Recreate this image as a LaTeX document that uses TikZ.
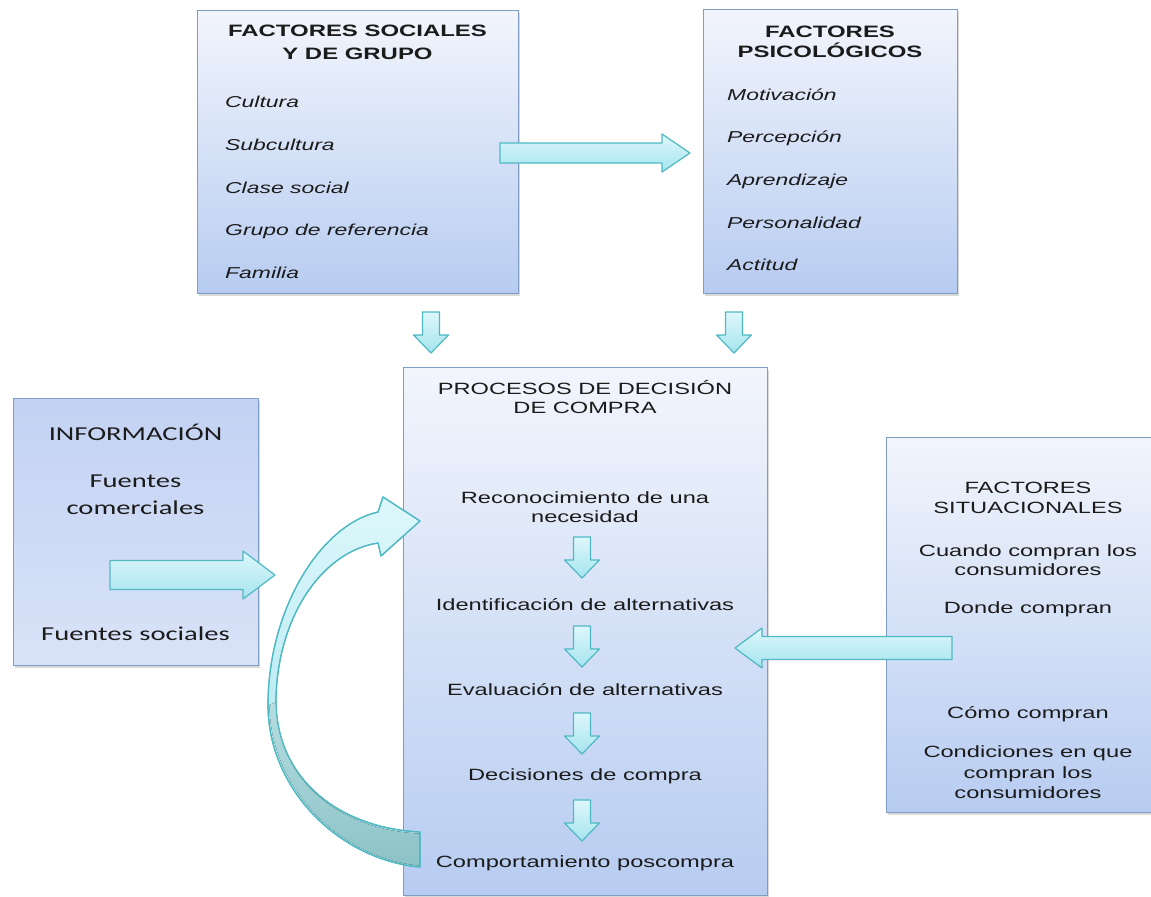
\documentclass[tikz,border=0pt]{standalone}
\usepackage{fontspec}
\setmainfont{Liberation Sans}[FakeStretch=1.45]
\newfontfamily\carlitofont{Carlito}[FakeStretch=1.45]
\usetikzlibrary{shadows}
\definecolor{boxline}{HTML}{7F9CC4}
\definecolor{boxtop}{HTML}{F2F5FC}
\definecolor{boxbot}{HTML}{B7CCF1}
\definecolor{infotop}{HTML}{C3D2F3}
\definecolor{infobot}{HTML}{D9E3F8}
\definecolor{arrline}{HTML}{4FB9C3}
\definecolor{arrtop}{HTML}{DDF7FB}
\definecolor{arrbot}{HTML}{A6E4EE}
\definecolor{arrdarktop}{HTML}{B5DDE0}
\definecolor{arrdarkbot}{HTML}{8CC3C7}
\definecolor{txt}{HTML}{1B1B1B}
\begin{document}
\begin{tikzpicture}[x=1bp,y=-1bp,
  panel/.style={draw=boxline, line width=1.3bp, top color=boxtop, bottom color=boxbot,
    anchor=north west, inner sep=0pt,
    drop shadow={shadow xshift=1.5bp, shadow yshift=-2bp, opacity=0.3}},
  infopanel/.style={panel, top color=infotop, bottom color=infobot},
  barrow/.style={draw=arrline, line width=1.2bp, top color=arrtop, bottom color=arrbot, line join=round},
  hdr/.style={anchor=base, text=txt, inner sep=0pt, font=\bfseries\fontsize{16.5bp}{20bp}\selectfont},
  itm/.style={anchor=base west, text=txt, inner sep=0pt, font=\itshape\fontsize{15.8bp}{19bp}\selectfont},
  ctxt/.style={anchor=base, text=txt, inner sep=0pt, font=\fontsize{16.3bp}{19bp}\selectfont},
  inf/.style={anchor=base, text=txt, inner sep=0pt, font=\carlitofont\fontsize{19.7bp}{24bp}\selectfont},
  pics/darrow/.style={code={\draw[barrow] (-8.5,0) -- (8.5,0) -- (8.5,23) -- (17.5,23) -- (0,41) -- (-17.5,23) -- (-8.5,23) -- cycle;}}
]
\useasboundingbox (0,0) rectangle (1151,897);
\clip (0,0) rectangle (1151,897);

% panels
\node[panel, minimum width=321bp, minimum height=283bp] (soc) at (197,10) {};
\node[panel, minimum width=254bp, minimum height=284bp] (psi) at (703,9) {};
\node[panel, minimum width=364bp, minimum height=528bp] (proc) at (403,367) {};
\node[infopanel, minimum width=245bp, minimum height=267bp] (info) at (13,398) {};
\node[panel, minimum width=284bp, minimum height=375bp] (sit) at (886,437) {};

% block arrows
\coordinate (a1) at (500,153);
\draw[barrow] (a1) ++(0,-10) -- ++(162,0) -- ++(0,-9) -- ++(28,19) -- ++(-28,19) -- ++(0,-9) -- ++(-162,0) -- cycle;
\coordinate (a2) at (110,575);
\draw[barrow] (a2) ++(0,-14.5) -- ++(133,0) -- ++(0,-9.5) -- ++(32,24) -- ++(-32,24) -- ++(0,-9.5) -- ++(-133,0) -- cycle;
\coordinate (a3) at (952,648);
\draw[barrow] (a3) ++(0,-11.5) -- ++(-190,0) -- ++(0,-8.5) -- ++(-27,20) -- ++(27,20) -- ++(0,-8.5) -- ++(190,0) -- cycle;

\pic at (431,312) {darrow};
\pic at (734,312) {darrow};
\pic at (582,537) {darrow};
\pic at (582,626) {darrow};
\pic at (582,713) {darrow};
\pic at (582,800) {darrow};

% curved arrow (feedback)
\coordinate (ctail) at (420,867);
\coordinate (ctip) at (420,521);
\draw[barrow] (ctail) .. controls (340,860) and (268,790) .. (268,705)
  .. controls (268,610) and (320,525) .. (378,512)
  -- (383,497) -- (ctip) -- (381,556) -- (378,543)
  .. controls (320,552) and (277,620) .. (276,700)
  .. controls (276,780) and (340,828) .. (420,832) -- cycle;
\fill[top color=arrdarktop, bottom color=arrdarkbot] (269.5,705) .. controls (270,788) and (340,858) .. (419,865.5)
  -- (419,833.5) .. controls (340,830) and (276,780) .. (276,702) -- cycle;
\draw[draw=arrline, line width=1.2bp, line join=round] (ctail) .. controls (340,860) and (268,790) .. (268,705)
  .. controls (268,610) and (320,525) .. (378,512)
  -- (383,497) -- (ctip) -- (381,556) -- (378,543)
  .. controls (320,552) and (277,620) .. (276,700)
  .. controls (276,780) and (340,828) .. (420,832) -- cycle;

% texts: social factors
\node[hdr] (soc1) at (357.5,36) {FACTORES SOCIALES};
\node[hdr] (soc2) at (357.5,59) {Y DE GRUPO};
\node[itm] (soci1) at (225,107) {Cultura};
\node[itm] (soci2) at (225,150) {Subcultura};
\node[itm] (soci3) at (225,193) {Clase social};
\node[itm] (soci4) at (225,235) {Grupo de referencia};
\node[itm] (soci5) at (225,278) {Familia};

% psychological
\node[hdr] (psi1) at (830,37) {FACTORES};
\node[hdr] (psi2) at (830,57) {PSICOLÓGICOS};
\node[itm] (psii1) at (727,100) {Motivación};
\node[itm] (psii2) at (727,142) {Percepción};
\node[itm] (psii3) at (727,185) {Aprendizaje};
\node[itm] (psii4) at (727,228) {Personalidad};
\node[itm] (psii5) at (727,270) {Actitud};

% process
\node[ctxt] (pr1) at (585,394) {PROCESOS DE DECISIÓN};
\node[ctxt] (pr2) at (585,413) {DE COMPRA};
\node[ctxt] (st1a) at (585,503) {Reconocimiento de una};
\node[ctxt] (st1b) at (585,522) {necesidad};
\node[ctxt] (st2) at (585,610) {Identificación de alternativas};
\node[ctxt] (st3) at (585,695) {Evaluación de alternativas};
\node[ctxt] (st4) at (585,780) {Decisiones de compra};
\node[ctxt] (st5) at (585,867) {Comportamiento poscompra};

% information
\node[inf] (in1) at (135.5,440) {INFORMACIÓN};
\node[inf] (in2) at (135.5,487) {Fuentes};
\node[inf] (in3) at (135.5,514) {comerciales};
\node[inf] (in4) at (135.5,640) {Fuentes sociales};

% situational
\node[ctxt] (si1) at (1028,493) {FACTORES};
\node[ctxt] (si2) at (1028,513) {SITUACIONALES};
\node[ctxt] (si3) at (1028,556) {Cuando compran los};
\node[ctxt] (si4) at (1028,575) {consumidores};
\node[ctxt] (si5) at (1028,613) {Donde compran};
\node[ctxt] (si6) at (1028,718) {Cómo compran};
\node[ctxt] (si7) at (1028,757) {Condiciones en que};
\node[ctxt] (si8) at (1028,778) {compran los};
\node[ctxt] (si9) at (1028,798) {consumidores};
\end{tikzpicture}
\end{document}
